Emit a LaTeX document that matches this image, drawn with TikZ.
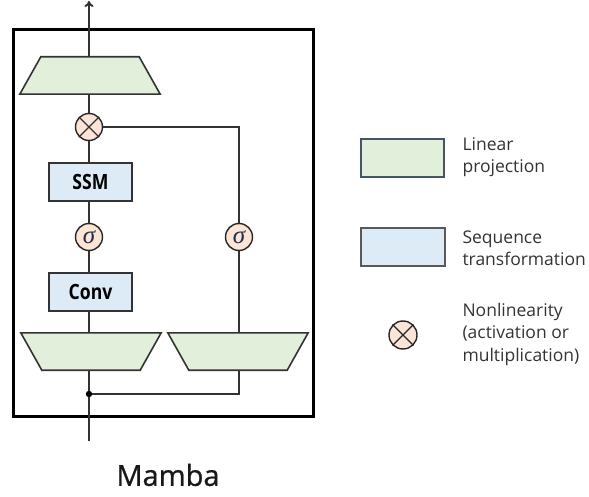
\documentclass[tikz,border=0pt]{standalone}
\usepackage{fontspec}
\setmainfont{Open Sans}
\newfontfamily\blockfont[FakeStretch=0.84]{Open Sans}
\newfontfamily\titlefont[FakeBold=0.8]{Open Sans}
\newfontfamily\sigfont{Liberation Serif}
\usetikzlibrary{arrows.meta}
\definecolor{projfill}{HTML}{E2EFDA}
\definecolor{seqfill}{HTML}{DDEBF7}
\definecolor{nlfill}{HTML}{FCE4D6}
\definecolor{wire}{HTML}{333333}
\definecolor{keyedge}{HTML}{44546A}
\definecolor{sigcol}{HTML}{1F2D4A}

\begin{document}
\begin{tikzpicture}[x=1pt,y=-1pt,
  projbox/.style={minimum width=140pt,minimum height=37pt,inner sep=0pt},
  projshape/.style={draw=wire,line width=1.6pt,fill=projfill,line join=miter},
  seq/.style={draw=wire,line width=1.6pt,fill=seqfill,minimum width=83pt,
    minimum height=38pt,inner sep=0pt,font=\blockfont\bfseries\fontsize{21}{21}\selectfont},
  nl/.style={circle,draw=black!85,line width=1.4pt,fill=nlfill,minimum size=27pt,inner sep=0pt},
  act/.style={nl,text=sigcol,font=\sigfont\itshape\fontsize{25}{25}\selectfont},
  legtext/.style={anchor=west,align=left,text=black!80,font=\fontsize{17.5}{22.5}\selectfont},
  wires/.style={draw=wire,line width=2pt}]
\useasboundingbox (0,0) rectangle (589,497);
% outer block
\draw [black,line width=3pt] (13,30) rectangle (313,416);
% left path
\node [projbox] (out) at (90,75.5) {};
\draw [projshape] (out.south west) -- (out.south east) -- ([xshift=-21pt]out.north east) -- ([xshift=21pt]out.north west) -- cycle;
\node [nl] (mul) at (89,127) {};
\draw [wire,line width=1.1pt] (mul.north west) -- (mul.south east) (mul.north east) -- (mul.south west);
\node [seq] (ssm) at (90.5,182) {SSM};
\node [act] (act) at (89,237) {σ};
\node [seq] (conv) at (90.5,292) {Conv};
\node [projbox] (inl) at (91,351.5) {};
\draw [projshape] (inl.north west) -- (inl.north east) -- ([xshift=-21pt]inl.south east) -- ([xshift=21pt]inl.south west) -- cycle;
% gate path
\node [act] (gate) at (239,237) {σ};
\node [projbox] (inr) at (238,351.5) {};
\draw [projshape] (inr.north west) -- (inr.north east) -- ([xshift=-21pt]inr.south east) -- ([xshift=21pt]inr.south west) -- cycle;
\coordinate (top) at (89,1);
\coordinate (in) at (89,441);
\coordinate (split) at (89,394);
% wires
\draw [wires,-{To[length=6pt,width=9pt]}] (out.north -| top) -- (top);
\draw [wires] (out.south -| mul) -- (mul);
\draw [wires] (mul) -- (ssm.north -| mul);
\draw [wires] (ssm.south -| act) -- (act);
\draw [wires] (act) -- (conv.north -| act);
\draw [wires] (conv.south -| act) -- (inl.north -| act);
\draw [wires] (mul) -| (gate);
\draw [wires] (gate) -- (inr.north -| gate);
\draw [wires] (in) -- (inl.south -| in);
\draw [wires] (split) -| (inr.south -| gate);
\fill [black] (split) circle (3.2);
\node [font=\titlefont\fontsize{29}{29}\selectfont,text=black!90] (title) at (168,475) {Mamba};
% legend
\node [draw=keyedge,line width=1.5pt,fill=projfill,minimum width=83pt,minimum height=38pt] (kproj) at (402.5,158) {};
\node [legtext] (tproj) at (459,157) {Linear\\projection};
\node [draw=black!65,line width=1.5pt,fill=seqfill,minimum width=84pt,minimum height=38pt] (kseq) at (403,247) {};
\node [legtext] (tseq) at (459,248) {Sequence\\transformation};
\node [nl,minimum size=28pt] (knl) at (403,335) {};
\draw [black!85,line width=1.1pt] (knl.north west) -- (knl.south east) (knl.north east) -- (knl.south west);
\node [legtext] (tnl) at (459,334) {Nonlinearity\\(activation or\\multiplication)};
\end{tikzpicture}
\end{document}
